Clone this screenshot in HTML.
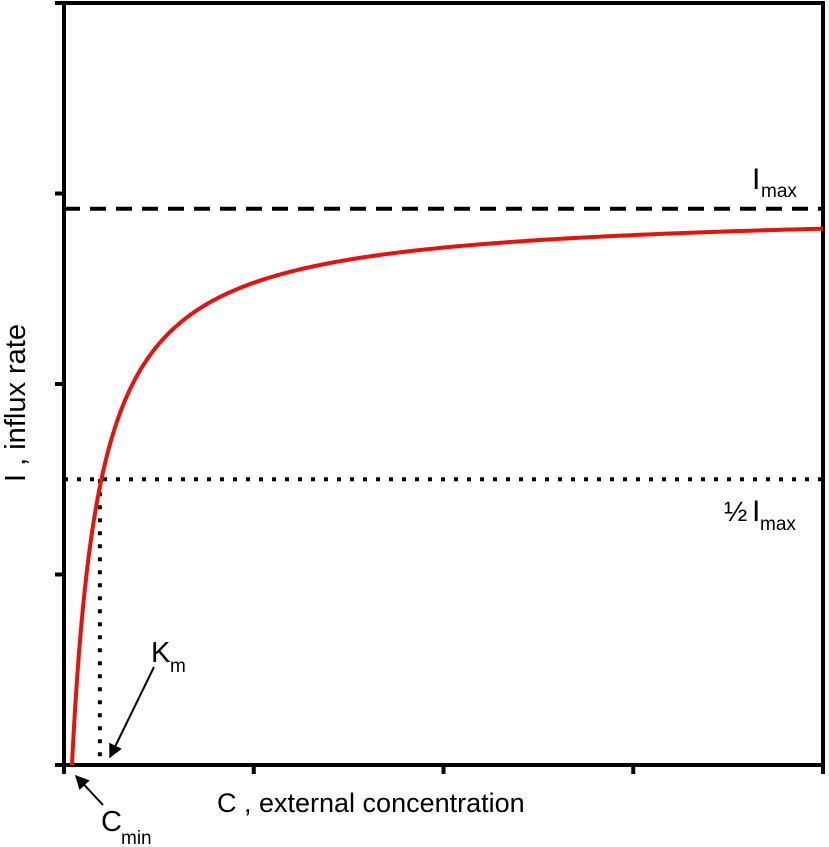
<!DOCTYPE html>
<html><head><meta charset="utf-8"><style>
body{margin:0;background:#fff}
svg{display:block}
text{font-family:"Liberation Sans","DejaVu Sans",sans-serif;fill:#000}
</style></head><body>
<svg id="chart" width="829" height="847" viewBox="0 0 829 847" xmlns="http://www.w3.org/2000/svg">
<defs><marker id="ah" viewBox="0 0 10 10" refX="9" refY="5" markerWidth="7" markerHeight="7" orient="auto"><path d="M0,0 L10,5 L0,10 z" fill="#000"/></marker></defs>
<g id="g"></g>
</svg>
<script>
const xTicks=[0,1,2,3,4];
const yTicks=[0,1,2,3,4];
const iMax=[2.92];
const halfLevel=[1.5];
const cMin=[0.042];
const kmC=[0.147];
const NS='http://www.w3.org/2000/svg';
const X0=64,X1=823,Y0=765,Y1=3;
const sx=v=>X0+(X1-X0)*v/4;
const sy=v=>Y0-(Y0-Y1)*v/4;
const g=document.getElementById('g');
function mk(t,a,name){const e=document.createElementNS(NS,t);for(const k in a)e.setAttribute(k,a[k]);


g.appendChild(e);return e;}
mk('path',{d:`M${X0},${Y0} L${X0},${Y1} L${X1},${Y1} L${X1},${Y0} Z`,fill:'none',stroke:'#000','stroke-width':4},'plot-frame');
yTicks.forEach(v=>mk('line',{x1:55,x2:X0,y1:sy(v),y2:sy(v),stroke:'#000','stroke-width':4},'y-tick'));
xTicks.forEach(v=>mk('line',{x1:sx(v),x2:sx(v),y1:Y0,y2:774,stroke:'#000','stroke-width':4},'x-tick'));
mk('line',{x1:X0,x2:X1,y1:sy(iMax[0]),y2:sy(iMax[0]),stroke:'#000','stroke-width':4,'stroke-dasharray':'16,10'},'imax-line');
mk('line',{x1:X0,x2:X1,y1:sy(halfLevel[0]),y2:sy(halfLevel[0]),stroke:'#000','stroke-width':4,'stroke-dasharray':'4,9'},'half-imax-line');
const km=cMin[0]+kmC[0];
mk('line',{x1:sx(km),x2:sx(km),y1:sy(halfLevel[0]),y2:Y0,stroke:'#000','stroke-width':4,'stroke-dasharray':'4,9'},'km-line');
const K=kmC[0];let d='';
for(let i=0;i<=400;i++){const c=cMin[0]+(4-cMin[0])*Math.pow(i/400,2);const v=iMax[0]*(c-cMin[0])/(K+c-cMin[0]);d+=(i?'L':'M')+sx(c).toFixed(2)+','+sy(v).toFixed(2);}
mk('path',{d:d,fill:'none',stroke:'#e8120c','stroke-width':4},'influx-curve');
mk('line',{x1:154,x2:110,y1:667,y2:757,stroke:'#000','stroke-width':2,'marker-end':'url(#ah)'},'km-arrow');
mk('line',{x1:103,x2:76,y1:805,y2:776,stroke:'#000','stroke-width':2,'marker-end':'url(#ah)'},'cmin-arrow');
function txt(x,y,s,sz,name,extra){const e=mk('text',Object.assign({x:x,y:y,'font-size':sz},extra||{}),name);e.textContent=s;return e;}
txt(151,662,'K',29,'km-label');txt(170,672,'m',19,'km-sub');
txt(101,831,'C',29,'cmin-label');txt(121,844,'min',19,'cmin-sub');
txt(217,812,'C , external concentration',27,'x-axis-title');
txt(752,189,'I',30,'imax-label');txt(761,197,'max',19,'imax-sub');
txt(724,521,'½',28,'half-label');txt(752,521,'I',30,'half-imax-label');txt(760,530,'max',19,'half-imax-sub');
txt(0,0,'I , influx rate',29,'y-axis-title',{transform:'translate(25,403) rotate(-90)','text-anchor':'middle'});
</script>
</body></html>
